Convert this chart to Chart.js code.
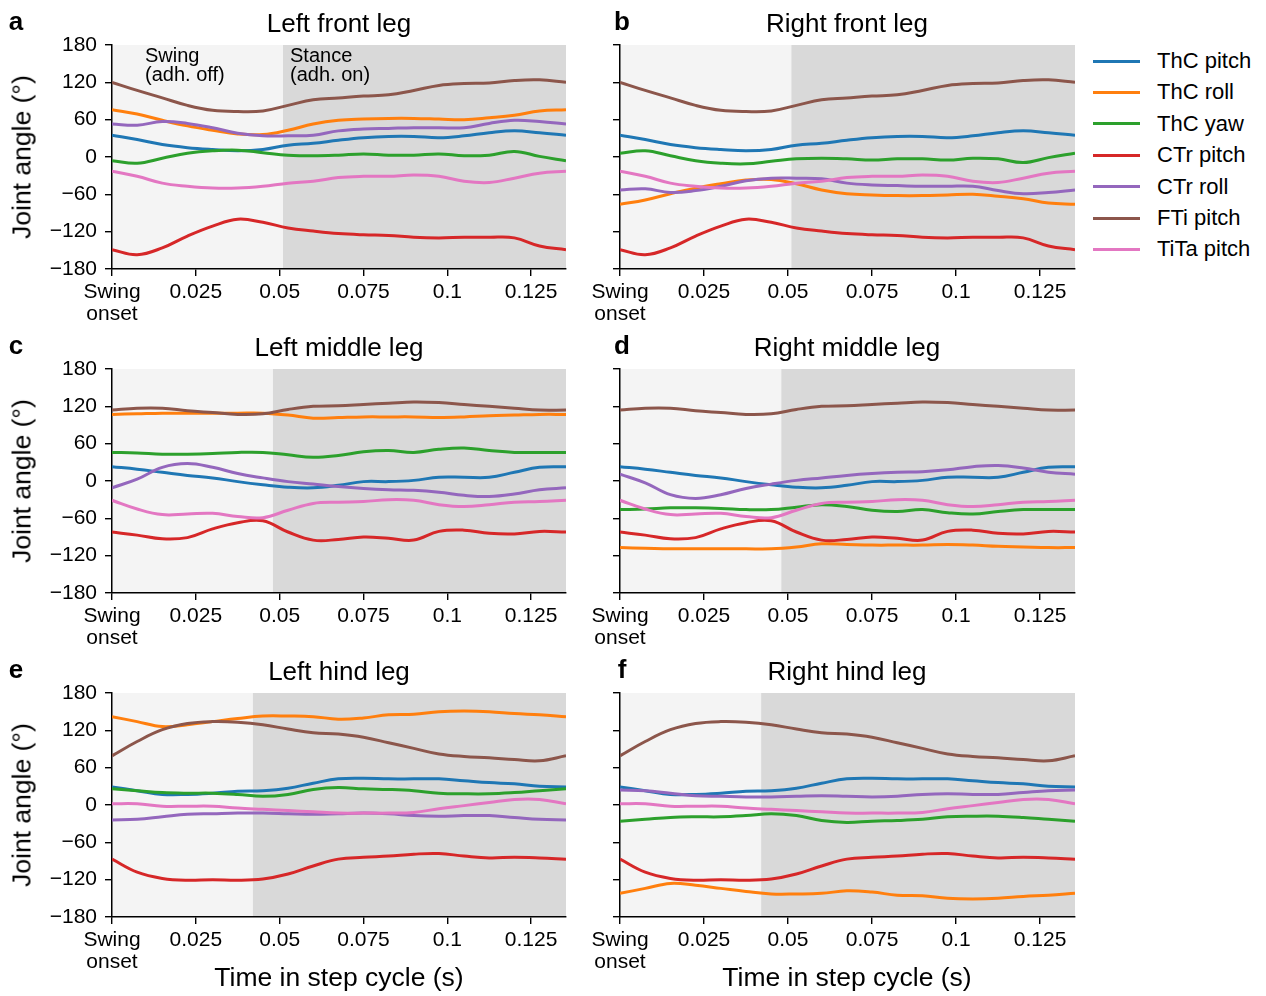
<!DOCTYPE html>
<html>
<head>
<meta charset="utf-8">
<script src="https://cdn.jsdelivr.net/npm/chart.js@4.4.1/dist/chart.umd.min.js"></script>
<style>
  body { margin: 0; width: 1266px; height: 996px; position: relative; overflow: hidden; background: #fff;
         font-family: "Liberation Sans", Arial, sans-serif; color: #000; }
  canvas { position: absolute; }
  .t { position: absolute; white-space: nowrap; transform: translate(-50%, -50%); }
  .l { position: absolute; white-space: nowrap; transform: translate(0, -50%); }
  .letter { font-weight: bold; font-size: 26px; }
  .title { font-size: 26px; }
  .xlab { font-size: 26.5px; }
  .ylab { font-size: 26.5px; transform: translate(-50%, -50%) rotate(-90deg); }
  .phase { position: absolute; font-size: 20px; line-height: 19px; }
  .leg { position: absolute; height: 3px; width: 47px; }
  .legtxt { font-size: 22px; }
</style>
</head>
<body>
<script>
// time samples (s) and axis ticks
const times = [0, 0.0075, 0.015, 0.0225, 0.03, 0.0375, 0.045, 0.0525, 0.06, 0.0675, 0.075,
               0.0825, 0.09, 0.0975, 0.105, 0.1125, 0.12, 0.1275, 0.1354];
const xTickValues = [0, 0.025, 0.05, 0.075, 0.1, 0.125];
const xTickLabels = [["Swing", "onset"], "0.025", "0.05", "0.075", "0.1", "0.125"];
const yTickValues = [-180, -120, -60, 0, 60, 120, 180];
const yTickLabels = ["\u2212180", "\u2212120", "\u221260", "0", "60", "120", "180"];

const seriesNames = ["ThC pitch", "ThC roll", "ThC yaw", "CTr pitch", "CTr roll", "FTi pitch", "TiTa pitch"];
const seriesColors = ["#1f77b4", "#ff7f0e", "#2ca02c", "#d62728", "#9467bd", "#8c564b", "#e377c2"];

// joint angles (deg), rows follow seriesNames
const leftFront = [
  [35, 28, 20, 15, 12, 10, 12, 19, 22, 27, 31, 33, 33, 31, 34, 39, 42, 39, 35],
  [76, 69, 59, 50, 43, 37, 36, 43, 53, 59, 61, 62, 62, 61, 60, 63, 67, 74, 76],
  [-6, -10, -2, 6, 10, 11, 7, 3, 2, 3, 5, 3, 3, 5, 2, 3, 9, 1, -6],
  [-149, -157, -146, -127, -111, -100, -105, -114, -119, -123, -125, -126, -129, -130, -129, -129, -130, -143, -149],
  [53, 51, 57, 54, 47, 38, 34, 34, 35, 42, 45, 46, 47, 47, 47, 54, 59, 57, 53],
  [120, 107, 95, 83, 75, 73, 74, 83, 92, 95, 98, 100, 107, 115, 118, 119, 123, 124, 120],
  [-23, -31, -42, -47, -50, -50, -47, -42, -39, -33, -31, -31, -29, -31, -39, -41, -34, -26, -23]
];
const rightFront = [
  [35, 28, 20, 15, 12, 10, 12, 19, 22, 27, 31, 33, 33, 31, 34, 39, 42, 39, 35],
  [-76, -69, -59, -50, -43, -37, -36, -43, -53, -59, -61, -62, -62, -61, -60, -63, -67, -74, -76],
  [6, 10, 2, -6, -10, -11, -7, -3, -2, -3, -5, -3, -3, -5, -2, -3, -9, -1, 6],
  [-149, -157, -146, -127, -111, -100, -105, -114, -119, -123, -125, -126, -129, -130, -129, -129, -130, -143, -149],
  [-53, -51, -57, -54, -47, -38, -34, -34, -35, -42, -45, -46, -47, -47, -47, -54, -59, -57, -53],
  [120, 107, 95, 83, 75, 73, 74, 83, 92, 95, 98, 100, 107, 115, 118, 119, 123, 124, 120],
  [-23, -31, -42, -47, -50, -50, -47, -42, -39, -33, -31, -31, -29, -31, -39, -41, -34, -26, -23]
];
const leftMiddle = [
  [23, 19, 14, 9, 5, -1, -6, -10, -11, -7, -1, -1, 1, 6, 6, 6, 14, 22, 23],
  [107, 108, 109, 109, 109, 109, 109, 106, 101, 102, 103, 103, 103, 102, 103, 105, 106, 107, 107],
  [46, 45, 43, 43, 44, 46, 46, 42, 38, 41, 47, 49, 46, 51, 53, 49, 46, 46, 46],
  [-82, -87, -93, -91, -77, -67, -64, -82, -95, -94, -90, -92, -95, -81, -79, -84, -85, -81, -82],
  [-11, 3, 22, 28, 22, 12, 5, -1, -5, -9, -12, -14, -15, -18, -23, -25, -21, -14, -11],
  [114, 117, 117, 113, 110, 107, 108, 115, 120, 121, 123, 125, 127, 126, 123, 120, 117, 114, 114],
  [-31, -45, -54, -53, -52, -57, -59, -47, -36, -34, -33, -30, -31, -38, -41, -38, -34, -33, -31]
];
const rightMiddle = [
  [23, 19, 14, 9, 5, -1, -6, -10, -11, -7, -1, -1, 1, 6, 6, 6, 14, 22, 23],
  [-107, -108, -109, -109, -109, -109, -109, -106, -101, -102, -103, -103, -103, -102, -103, -105, -106, -107, -107],
  [-46, -45, -43, -43, -44, -46, -46, -42, -38, -41, -47, -49, -46, -51, -53, -49, -46, -46, -46],
  [-82, -87, -93, -91, -77, -67, -64, -82, -95, -94, -90, -92, -95, -81, -79, -84, -85, -81, -82],
  [11, -3, -22, -28, -22, -12, -5, 1, 5, 9, 12, 14, 15, 18, 23, 25, 21, 14, 11],
  [114, 117, 117, 113, 110, 107, 108, 115, 120, 121, 123, 125, 127, 126, 123, 120, 117, 114, 114],
  [-31, -45, -54, -53, -52, -57, -59, -47, -36, -34, -33, -30, -31, -38, -41, -38, -34, -33, -31]
];
const leftHind = [
  [29, 23, 17, 17, 19, 22, 23, 27, 35, 42, 43, 42, 42, 42, 39, 36, 34, 30, 29],
  [142, 134, 126, 129, 134, 139, 143, 143, 142, 138, 140, 145, 146, 150, 151, 150, 147, 145, 142],
  [26, 23, 20, 19, 19, 17, 14, 17, 25, 28, 26, 25, 23, 19, 18, 18, 20, 23, 26],
  [-87, -108, -118, -121, -120, -121, -119, -111, -98, -87, -84, -82, -79, -78, -82, -85, -84, -85, -87],
  [-24, -23, -19, -15, -14, -13, -13, -14, -15, -14, -13, -14, -17, -18, -17, -17, -20, -23, -24],
  [79, 102, 121, 131, 134, 133, 129, 122, 116, 114, 109, 100, 91, 82, 78, 76, 73, 71, 79],
  [2, 2, -2, -2, -2, -5, -7, -9, -11, -13, -13, -13, -12, -6, -1, 4, 9, 9, 2]
];
const rightHind = [
  [29, 23, 17, 17, 19, 22, 23, 27, 35, 42, 43, 42, 42, 42, 39, 36, 34, 30, 29],
  [-142, -134, -126, -129, -134, -139, -143, -143, -142, -138, -140, -145, -146, -150, -151, -150, -147, -145, -142],
  [-26, -23, -20, -19, -19, -17, -14, -17, -25, -28, -26, -25, -23, -19, -18, -18, -20, -23, -26],
  [-87, -108, -118, -121, -120, -121, -119, -111, -98, -87, -84, -82, -79, -78, -82, -85, -84, -85, -87],
  [24, 23, 19, 15, 14, 13, 13, 14, 15, 14, 13, 14, 17, 18, 17, 17, 20, 23, 24],
  [79, 102, 121, 131, 134, 133, 129, 122, 116, 114, 109, 100, 91, 82, 78, 76, 73, 71, 79],
  [2, 2, -2, -2, -2, -5, -7, -9, -11, -13, -13, -13, -12, -6, -1, 4, 9, 9, 2]
];
// end of swing phase (s) for front, middle, hind legs
const swingEnds = [0.051, 0.048, 0.042];

Chart.defaults.font.family = '"Liberation Sans", Arial, sans-serif';
Chart.defaults.color = "#000";

// swing / stance shading behind the lines
const phasePlugin = {
  id: "phases",
  beforeDraw(chart, args, opts) {
    const { ctx, chartArea: a, scales: { x } } = chart;
    const xs = x.getPixelForValue(opts.swingEnd);
    ctx.save();
    ctx.fillStyle = "#f4f4f4";
    ctx.fillRect(a.left, a.top, xs - a.left, a.bottom - a.top);
    ctx.fillStyle = "#d9d9d9";
    ctx.fillRect(xs, a.top, a.right - xs, a.bottom - a.top);
    ctx.restore();
  }
};

function makePanel(rows, left, top, isLeft, swingEnd) {
  const canvas = document.createElement("canvas");
  const w = isLeft ? 580 : 510;
  canvas.width = w;
  canvas.height = 330;
  canvas.style.left = left + "px";
  canvas.style.top = top + "px";
  document.body.appendChild(canvas);
  const gridOpts = { drawOnChartArea: false, tickLength: 7, color: "#000", lineWidth: 1.4 };
  const borderOpts = { color: "#000", width: 1.5 };
  new Chart(canvas, {
    type: "line",
    data: {
      datasets: rows.map((vals, i) => ({
        label: seriesNames[i],
        data: vals.map((v, j) => ({ x: times[j], y: v })),
        borderColor: seriesColors[i],
        borderWidth: 3,
        pointRadius: 0,
        tension: 0.4,
        fill: false,
        order: 7 - i
      }))
    },
    options: {
      responsive: false,
      animation: false,
      layout: { padding: { top: 45, right: isLeft ? 14 : 15, left: 0, bottom: 0 } },
      plugins: { legend: { display: false }, tooltip: { enabled: false }, phases: { swingEnd } },
      scales: {
        x: {
          type: "linear", min: 0, max: 0.1354,
          afterBuildTicks: s => { s.ticks = xTickValues.map(v => ({ value: v })); },
          afterFit: s => { s.height = 61; },
          ticks: { autoSkip: false, maxRotation: 0, padding: 5, font: { size: 21, lineHeight: 1.05 },
                   callback: (v, i) => xTickLabels[i] },
          grid: gridOpts, border: borderOpts
        },
        y: {
          min: -180, max: 180,
          afterBuildTicks: s => { s.ticks = yTickValues.map(v => ({ value: v })); },
          afterFit: s => { s.width = isLeft ? 112 : 40; },
          ticks: { display: isLeft, padding: 8, font: { size: 21 },
                   callback: (v, i) => yTickLabels[i] },
          grid: gridOpts, border: borderOpts
        }
      }
    },
    plugins: [phasePlugin]
  });
}

function addText(cls, txt, x, y) {
  const d = document.createElement("div");
  d.className = cls;
  d.textContent = txt;
  d.style.left = x + "px";
  d.style.top = y + "px";
  document.body.appendChild(d);
  return d;
}

const panels = [
  [leftFront, "a", "Left front leg", 0, 0],
  [rightFront, "b", "Right front leg", 1, 0],
  [leftMiddle, "c", "Left middle leg", 0, 1],
  [rightMiddle, "d", "Right middle leg", 1, 1],
  [leftHind, "e", "Left hind leg", 0, 2],
  [rightHind, "f", "Right hind leg", 1, 2]
];

panels.forEach(([rows, letter, title, col, row]) => {
  const top = row * 324;
  const isLeft = col === 0;
  makePanel(rows, isLeft ? 0 : 580, top, isLeft, swingEnds[row]);
  const cx = isLeft ? 339 : 847;
  addText("t title", title, cx, top + 23);
  addText("t letter", letter, isLeft ? 16 : 622, top + 21);
  if (isLeft) addText("t ylab", "Joint angle (\u00b0)", 22, top + 157);
  if (row === 2) addText("t xlab", "Time in step cycle (s)", cx, 977);
});

// phase labels in panel a
const sw = addText("phase", "", 145, 46);
sw.innerHTML = "Swing<br>(adh. off)";
const st = addText("phase", "", 290, 46);
st.innerHTML = "Stance<br>(adh. on)";

// legend
seriesNames.forEach((name, i) => {
  const y = 61 + i * 31.4;
  const line = document.createElement("div");
  line.className = "leg";
  line.style.left = "1093px";
  line.style.top = (y - 1.5) + "px";
  line.style.background = seriesColors[i];
  document.body.appendChild(line);
  addText("l legtxt", name, 1157, y);
});
</script>
</body>
</html>
